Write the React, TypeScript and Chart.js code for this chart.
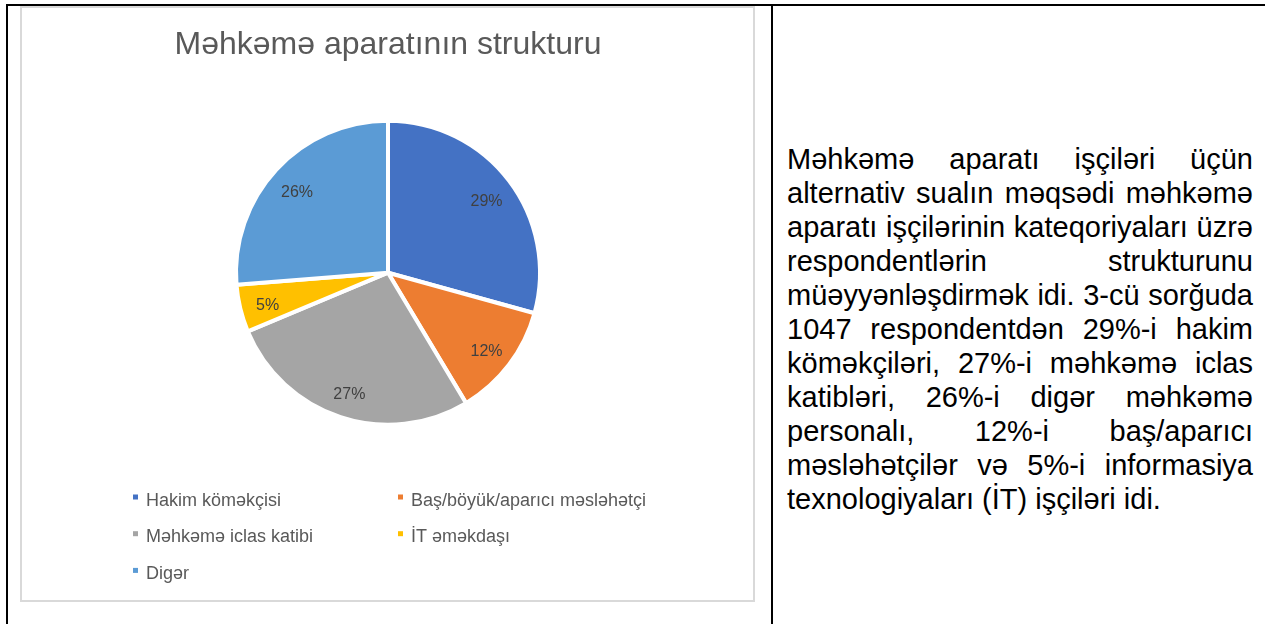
import React, { useEffect, useRef } from "react";
import { Chart, registerables } from "chart.js";

Chart.register(...registerables);

// ---- data ----
const TITLE = "Məhkəmə aparatının strukturu";
const categories = [
  "Hakim köməkçisi",
  "Baş/böyük/aparıcı məsləhətçi",
  "Məhkəmə iclas katibi",
  "İT əməkdaşı",
  "Digər",
];
const shares = [29, 12, 27, 5, 26];
const sliceColors = ["#4472C4", "#ED7D31", "#A5A5A5", "#FFC000", "#5B9BD5"];
const PARAGRAPH =
  "Məhkəmə aparatı işçiləri üçün alternativ sualın məqsədi məhkəmə aparatı işçilərinin kateqoriyaları üzrə respondentlərin strukturunu müəyyənləşdirmək idi. 3-cü sorğuda 1047 respondentdən 29%-i hakim köməkçiləri, 27%-i məhkəmə iclas katibləri, 26%-i digər məhkəmə personalı, 12%-i baş/aparıcı məsləhətçilər və 5%-i informasiya texnologiyaları (İT) işçiləri idi.";

const FONT = '"Liberation Sans", Arial, sans-serif';

// ---- layout (page px) ----
const BOX_L = 20, BOX_T = 6, BOX_R = 755, BOX_B = 602, BOX_BORDER = 2;
const CV_L = BOX_L + BOX_BORDER, CV_T = BOX_T + BOX_BORDER;
const CV_W = BOX_R - BOX_BORDER - CV_L, CV_H = BOX_B - BOX_BORDER - CV_T;
const PIE_CX = 388 - CV_L, PIE_CY = 272.7 - CV_T;
const PIE_R = 152;
const AREA_HALF = 160;
const TITLE_SIZE = 32, TITLE_LH = 1.2;
const TITLE_BASE = 56.5 - CV_T;
const titleMid = TITLE_BASE - 0.3465 * TITLE_SIZE;
const titlePadTop = titleMid - (TITLE_SIZE * TITLE_LH) / 2;
const areaTop = PIE_CY - AREA_HALF;
const titlePadBottom = areaTop - titlePadTop - TITLE_SIZE * TITLE_LH;
const padBottom = CV_H - (PIE_CY + AREA_HALF);
const padLeft = 2 * PIE_CX - CV_W;

const legendPlugin = {
  id: "gridLegend",
  afterDraw(chart: any) {
    const ctx = chart.ctx;
    const labels = chart.data.labels as string[];
    const bg = chart.data.datasets[0].backgroundColor as string[];
    const colMarkerX = [135.5 - CV_L, 400.5 - CV_L];
    const rowBase = [505.5 - CV_T, 542.2 - CV_T, 578.9 - CV_T];
    ctx.save();
    ctx.font = `18px ${FONT}`;
    ctx.textAlign = "left";
    ctx.textBaseline = "alphabetic";
    labels.forEach((lab, i) => {
      const c = i % 2;
      const r = Math.floor(i / 2);
      const mx = colMarkerX[c];
      const by = rowBase[r];
      ctx.fillStyle = bg[i];
      ctx.fillRect(mx - 2.5, by - 8.5 - 2.5, 5, 5);
      ctx.fillStyle = "#595959";
      ctx.fillText(lab, mx + 10.5, by);
    });
    ctx.restore();
  },
};

const sliceLabelPlugin = {
  id: "sliceLabels",
  afterDatasetsDraw(chart: any) {
    const ctx = chart.ctx;
    const meta = chart.getDatasetMeta(0);
    const vals = chart.data.datasets[0].data as number[];
    ctx.save();
    ctx.font = `16px ${FONT}`;
    ctx.fillStyle = "#404040";
    ctx.textAlign = "center";
    ctx.textBaseline = "middle";
    meta.data.forEach((arc: any, i: number) => {
      const p = arc.getProps(["x", "y", "startAngle", "endAngle", "outerRadius"], true);
      const mid = (p.startAngle + p.endAngle) / 2;
      const r = p.outerRadius * 0.815;
      ctx.fillText(vals[i] + "%", p.x + Math.cos(mid) * r, p.y + Math.sin(mid) * r + 4);
    });
    ctx.restore();
  },
};

export default function App() {
  const canvasRef = useRef<HTMLCanvasElement | null>(null);

  useEffect(() => {
    if (!canvasRef.current) return;
    const chart = new Chart(canvasRef.current, {
      type: "pie",
      data: {
        labels: categories,
        datasets: [
          {
            data: shares,
            backgroundColor: sliceColors,
            borderColor: "#ffffff",
            borderWidth: 4,
            hoverOffset: 0,
          },
        ],
      },
      options: {
        responsive: false,
        animation: false,
        devicePixelRatio: 1,
        radius: PIE_R,
        layout: {
          padding: { top: 0, left: padLeft, right: 0, bottom: padBottom },
        },
        plugins: {
          legend: { display: false },
          tooltip: { enabled: false },
          title: {
            display: true,
            text: TITLE,
            color: "#595959",
            font: { family: FONT, size: TITLE_SIZE, weight: "normal", lineHeight: TITLE_LH },
            padding: { top: titlePadTop, bottom: titlePadBottom },
          },
        },
      } as any,
      plugins: [sliceLabelPlugin, legendPlugin],
    });
    return () => chart.destroy();
  }, []);

  return (
    <div
      style={{
        position: "fixed",
        left: 0,
        top: 0,
        width: 1265,
        height: 624,
        background: "#ffffff",
        overflow: "hidden",
        fontFamily: FONT,
      }}
    >
      {/* table borders */}
      <div style={{ position: "absolute", left: 6, top: 4, width: 1259, height: 2, background: "#000" }} />
      <div style={{ position: "absolute", left: 6, top: 4, width: 2, height: 620, background: "#000" }} />
      <div style={{ position: "absolute", left: 771, top: 4, width: 2, height: 620, background: "#000" }} />
      {/* chart frame */}
      <div
        style={{
          position: "absolute",
          left: BOX_L,
          top: BOX_T,
          width: BOX_R - BOX_L,
          height: BOX_B - BOX_T,
          boxSizing: "border-box",
          border: `${BOX_BORDER}px solid #d9d9d9`,
          background: "#ffffff",
        }}
      />
      <canvas
        ref={canvasRef}
        width={CV_W}
        height={CV_H}
        style={{ position: "absolute", left: CV_L, top: CV_T, width: CV_W, height: CV_H }}
      />
      {/* right cell text */}
      <div
        style={{
          position: "absolute",
          left: 787,
          top: 142.3,
          width: 466,
          fontSize: 29,
          lineHeight: "34px",
          textAlign: "justify",
          color: "#000",
          fontFamily: FONT,
        }}
      >
        {PARAGRAPH}
      </div>
    </div>
  );
}
